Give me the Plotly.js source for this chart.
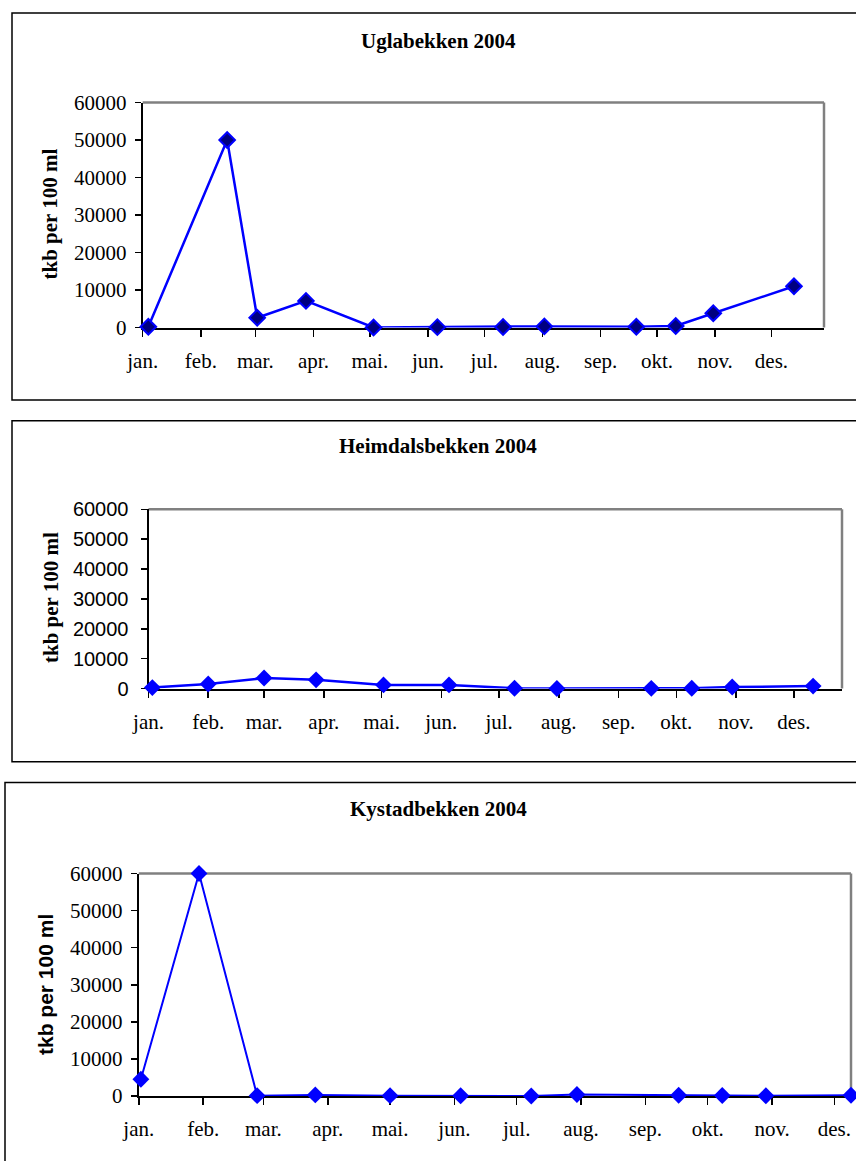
<!DOCTYPE html>
<html>
<head>
<meta charset="utf-8">
<script src="https://cdn.plot.ly/plotly-3.0.1.min.js"></script>
<style>
  html, body { margin: 0; padding: 0; background: #fff; }
  #chart { width: 856px; height: 1161px; }
</style>
</head>
<body>
<div id="chart"></div>
<script>
// ---------- data ----------
const monthTickDates = ['2004-01-01','2004-02-01','2004-03-01','2004-04-01','2004-05-01','2004-06-01',
                        '2004-07-01','2004-08-01','2004-09-01','2004-10-01','2004-11-01','2004-12-01'];
const monthLabels = ['jan.','feb.','mar.','apr.','mai.','jun.','jul.','aug.','sep.','okt.','nov.','des.'];

const chartTitles = ['Uglabekken 2004', 'Heimdalsbekken 2004', 'Kystadbekken 2004'];
const yAxisTitle = 'tkb per 100 ml';

const uglaDates  = ['2004-01-04','2004-02-15','2004-03-02','2004-03-28','2004-05-03','2004-06-06',
                    '2004-07-11','2004-08-02','2004-09-20','2004-10-11','2004-10-31','2004-12-13'];
const uglaValues = [200, 50000, 2600, 7100, 0, 100, 150, 300, 200, 400, 3800, 11000];

const heimDates  = ['2004-01-03','2004-02-01','2004-03-01','2004-03-28','2004-05-02','2004-06-05',
                    '2004-07-09','2004-07-31','2004-09-18','2004-10-09','2004-10-30','2004-12-11'];
const heimValues = [300, 1500, 3500, 2900, 1200, 1200, 100, 0, 50, 100, 500, 800];

const kystDates  = ['2004-01-02','2004-01-30','2004-02-27','2004-03-26','2004-05-01','2004-06-04',
                    '2004-07-08','2004-07-30','2004-09-17','2004-10-08','2004-10-29','2004-12-09'];
const kystValues = [4500, 60000, 100, 300, 100, 50, 0, 400, 200, 150, 50, 200];

// ---------- layout helpers ----------
const W = 856, H = 1161;
const px = x => x / W;
const py = y => 1 - y / H;
const SERIF = 'Liberation Serif, Times New Roman, serif';
const SANS = 'Liberation Sans, Arial, sans-serif';

const panels = [
  { dates: uglaDates, values: uglaValues, xr: ['2004-01-01', '2004-12-29'],
    plot: [142.7, 824, 102.5, 327.5], box: [12, 13, 860, 400],
    titleY: 41, yTitleX: 50, yTitleY: 214.5, yTitleFont: SERIF, yTickFont: SERIF, yTickSize: 21,
    markerColor: '#000080', lineW: 2.5, mSize: 12 },
  { dates: heimDates, values: heimValues, xr: ['2004-01-01', '2004-12-26'],
    plot: [148.5, 842, 509.3, 688.5], box: [12, 420.7, 860, 761.7],
    titleY: 446, yTitleX: 51, yTitleY: 598, yTitleFont: SERIF, yTickFont: SANS, yTickSize: 20,
    markerColor: '#0000FF', lineW: 2.5, mSize: 13 },
  { dates: kystDates, values: kystValues, xr: ['2004-01-01', '2004-12-09'],
    plot: [138.8, 851, 873.5, 1096], box: [5, 782.5, 860, 1170],
    titleY: 809, yTitleX: 45, yTitleY: 985, yTitleFont: SANS, yTickFont: SERIF, yTickSize: 21,
    markerColor: '#0000FF', lineW: 2, mSize: 13 }
];

const data = [];
const layout = {
  width: W, height: H,
  margin: { l: 0, r: 0, t: 0, b: 0 },
  paper_bgcolor: '#ffffff',
  plot_bgcolor: 'rgba(0,0,0,0)',
  showlegend: false,
  shapes: [],
  annotations: []
};

panels.forEach((p, i) => {
  const n = i === 0 ? '' : String(i + 1);
  data.push({
    type: 'scatter', mode: 'lines+markers',
    x: p.dates, y: p.values,
    xaxis: 'x' + n, yaxis: 'y' + n,
    cliponaxis: false,
    line: { color: '#0000FF', width: p.lineW },
    marker: { symbol: 'diamond', size: p.mSize, color: p.markerColor,
              line: { color: '#0000FF', width: i === 0 ? 2 : 0 } },
    hoverinfo: 'x+y'
  });
  layout['xaxis' + n] = {
    type: 'date', range: p.xr,
    domain: [px(p.plot[0]), px(p.plot[1])],
    anchor: 'y' + n,
    tickmode: 'array', tickvals: monthTickDates, ticktext: monthLabels,
    ticks: 'outside', ticklen: 7, tickwidth: 1.5, tickcolor: '#000',
    showline: true, linecolor: '#000', linewidth: 2,
    showgrid: false, zeroline: false, layer: 'below traces',
    tickfont: { family: SERIF, size: 21, color: '#000' },
    ticklabelstandoff: 6, fixedrange: true
  };
  layout['yaxis' + n] = {
    range: [0, 60000], dtick: 10000, tick0: 0, tickformat: 'd',
    domain: [py(p.plot[3]), py(p.plot[2])],
    anchor: 'x' + n,
    ticks: 'outside', ticklen: 6, tickwidth: 1.5, tickcolor: '#000',
    showline: true, linecolor: '#000', linewidth: 2,
    showgrid: false, zeroline: false, layer: 'below traces',
    tickfont: { family: p.yTickFont, size: p.yTickSize, color: '#000' },
    ticklabelstandoff: i === 1 ? 8 : 4, fixedrange: true
  };
  // gray top & right frame of plot area
  layout.shapes.push({ type: 'line', xref: 'x' + n + ' domain', yref: 'y' + n + ' domain',
    x0: 0, x1: 1, y0: 1, y1: 1, line: { color: '#808080', width: 2.5 }, layer: 'below' });
  layout.shapes.push({ type: 'line', xref: 'x' + n + ' domain', yref: 'y' + n + ' domain',
    x0: 1, x1: 1, y0: 0, y1: 1, line: { color: '#808080', width: 2.5 }, layer: 'below' });
  // outer chart border
  layout.shapes.push({ type: 'rect', xref: 'paper', yref: 'paper',
    x0: px(p.box[0]), x1: px(p.box[2]), y0: py(p.box[3]), y1: py(p.box[1]),
    line: { color: '#000', width: 1.5 }, fillcolor: 'rgba(0,0,0,0)', layer: 'below' });
  // chart title
  layout.annotations.push({ text: '<b>' + chartTitles[i] + '</b>', xref: 'paper', yref: 'paper',
    x: px(438), y: py(p.titleY), xanchor: 'center', yanchor: 'middle', showarrow: false,
    font: { family: SERIF, size: 21, color: '#000' } });
  // y-axis title
  layout.annotations.push({ text: '<b>' + yAxisTitle + '</b>', xref: 'paper', yref: 'paper',
    x: px(p.yTitleX), y: py(p.yTitleY), xanchor: 'center', yanchor: 'middle', showarrow: false,
    textangle: -90, font: { family: p.yTitleFont, size: 21, color: '#000' } });
});

Plotly.newPlot('chart', data, layout, { displayModeBar: false, staticPlot: true });
</script>
</body>
</html>
